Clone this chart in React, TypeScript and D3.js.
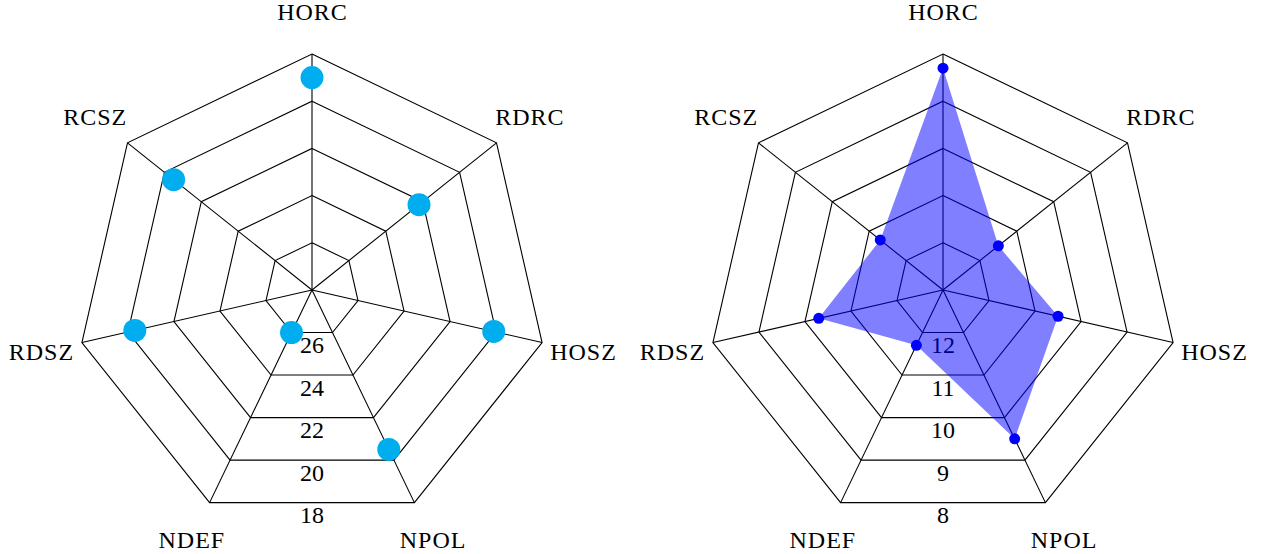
import React from "react";
import * as d3 from "d3";

const WIDTH = 1264;
const HEIGHT = 554;
const RADIUS = 236;
const FONT = "'Liberation Serif', 'DejaVu Serif', serif";

const axes = ["HORC", "RDRC", "HOSZ", "NPOL", "NDEF", "RDSZ", "RCSZ"];

// left chart: reversed scale, 28 at centre, 18 at the rim
const leftTicks = [26, 24, 22, 20, 18];
const leftValues = [19.0, 22.2, 20.1, 20.5, 26.0, 20.3, 20.5];

// right chart: reversed scale, 13 at centre, 8 at the rim
const rightTicks = [12, 11, 10, 9, 8];
const rightValues = [8.3, 11.5, 10.5, 9.5, 11.7, 10.3, 11.3];

interface RadarProps {
  cx: number;
  cy: number;
  domain: [number, number];
  ticks: number[];
  values: number[];
  filled: boolean;
}

const angle = (i: number) => -Math.PI / 2 + (i * 2 * Math.PI) / axes.length;

const Radar = ({ cx, cy, domain, ticks, values, filled }: RadarProps) => {
  const r = d3.scaleLinear().domain(domain).range([0, RADIUS]);
  const line = d3.line<[number, number]>().curve(d3.curveLinearClosed);

  const pt = (i: number, dist: number): [number, number] => [
    cx + dist * Math.cos(angle(i)),
    cy + dist * Math.sin(angle(i)),
  ];

  const ring = (t: number) => line(axes.map((_, i) => pt(i, r(t)))) || "";
  const shape = line(values.map((v, i) => pt(i, r(v)))) || "";
  const apothem = Math.cos(Math.PI / axes.length);

  return (
    <g>
      <g fill="none" stroke="#000" strokeWidth={1.1}>
        {ticks.map((t) => (
          <path key={t} d={ring(t)} />
        ))}
        {axes.map((a, i) => {
          const [x, y] = pt(i, RADIUS);
          return <line key={a} x1={cx} y1={cy} x2={x} y2={y} />;
        })}
      </g>
      <g fontFamily={FONT} fontSize={24} textAnchor="middle" fill="#000">
        {ticks.map((t) => (
          <text key={t} x={cx} y={cy + r(t) * apothem + 12.5 + 8}>
            {t}
          </text>
        ))}
        {axes.map((a, i) => {
          const [x, y] = pt(i, RADIUS + 42);
          return (
            <text key={a} x={x + 0.5} y={y + 8} letterSpacing={1}>
              {a}
            </text>
          );
        })}
      </g>
      {filled && <path d={shape} fill="#0000ff" fillOpacity={0.5} />}
      <g fill={filled ? "#0000ff" : "#00aeef"}>
        {values.map((v, i) => {
          const [x, y] = pt(i, r(v));
          return <circle key={axes[i]} cx={x} cy={y} r={filled ? 5.5 : 11.5} />;
        })}
      </g>
    </g>
  );
};

export default function App() {
  return (
    <svg
      width={WIDTH}
      height={HEIGHT}
      style={{ position: "absolute", left: 0, top: 0, background: "#fff" }}
    >
      <Radar
        cx={312}
        cy={290}
        domain={[28, 18]}
        ticks={leftTicks}
        values={leftValues}
        filled={false}
      />
      <Radar
        cx={943}
        cy={290}
        domain={[13, 8]}
        ticks={rightTicks}
        values={rightValues}
        filled={true}
      />
    </svg>
  );
}
